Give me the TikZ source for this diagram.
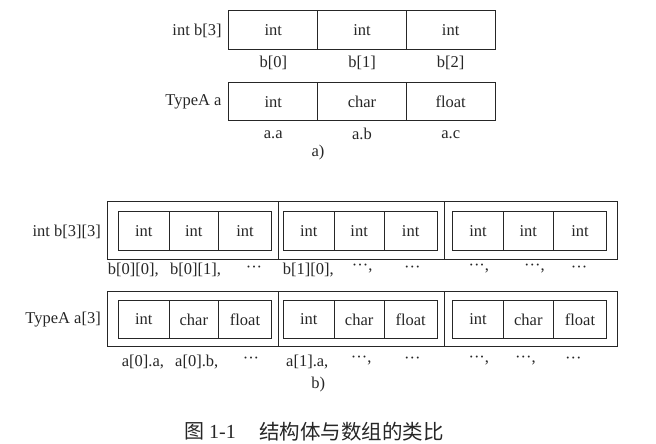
\documentclass[tikz,border=0pt]{standalone}
\usepackage{fontspec}
\setmainfont{Liberation Serif}
\newfontfamily\cjk{Noto Sans CJK SC}
\begin{document}
\begin{tikzpicture}[x=1pt,y=-1pt,
  lbl/.style={font=\fontsize{16.5}{19}\selectfont, inner sep=0pt, text=black!85},
  cell/.style={draw=black!85, line width=1pt, inner sep=0pt, outer sep=0pt, font=\fontsize{16.5}{19}\selectfont, text=black!85},
  topcell/.style={cell, minimum width=88.67pt, minimum height=38.5pt},
  incell/.style={cell, minimum height=39pt},
  inacell/.style={cell, minimum height=37.6pt},
  outb/.style={cell, minimum height=57.6pt},
  outa/.style={cell, minimum height=55.7pt}]
\useasboundingbox (0,0) rectangle (656,444);
% ---- a) ----
\node[topcell] (b0) at (273.3,30) {int};
\node[topcell] (b1) at (362,30) {int};
\node[topcell] (b2) at (450.7,30) {int};
\node[lbl, anchor=east] (lb) at (221.7,30.7) {int b[3]};
\node[lbl] (lb0) at (273.3,63) {b[0]};
\node[lbl] (lb1) at (362,63) {b[1]};
\node[lbl] (lb2) at (450.7,63) {b[2]};
\node[topcell] (a0) at (273.3,101.7) {int};
\node[topcell] (a1) at (362,101.7) {char};
\node[topcell] (a2) at (450.7,101.7) {float};
\node[lbl, anchor=east] (la) at (221.7,101.7) {TypeA a};
\node[lbl] (la0) at (273.3,134.3) {a.a};
\node[lbl] (la1) at (362,134.3) {a.b};
\node[lbl] (la2) at (450.7,134.3) {a.c};
\node[lbl] (capa) at (318,152.7) {a)};
% ---- b) int b[3][3] ----
\node[outb, minimum width=170.6pt] (ob1) at (193,230.5) {};
\node[outb, minimum width=166pt] (ob2) at (361.3,230.5) {};
\node[outb, minimum width=173.4pt] (ob3) at (531,230.5) {};
\node[incell, minimum width=51pt] (b11) at (143.8,231.2) {int};
\node[incell, minimum width=49pt] (b12) at (193.8,231.2) {int};
\node[incell, minimum width=53.4pt] (b13) at (245,231.2) {int};
\node[incell, minimum width=51pt] (b21) at (308.8,231.2) {int};
\node[incell, minimum width=49.7pt] (b22) at (359.15,231.2) {int};
\node[incell, minimum width=53.3pt] (b23) at (410.65,231.2) {int};
\node[incell, minimum width=50.6pt] (b31) at (478,231.2) {int};
\node[incell, minimum width=50pt] (b32) at (528.3,231.2) {int};
\node[incell, minimum width=53.4pt] (b33) at (580,231.2) {int};
\node[lbl, anchor=east] (lbb) at (101,231.7) {int b[3][3]};
\node[lbl, anchor=west] (t1) at (107.7,270) {b[0][0],};
\node[lbl, anchor=west] (t2) at (170,270) {b[0][1],};
\node[lbl] (t3) at (254,269) {···};
\node[lbl, anchor=west] (t4) at (282.7,270) {b[1][0],};
\node[lbl, anchor=west] (t5) at (351.7,269) {···,};
\node[lbl] (t6) at (412.3,269) {···};
\node[lbl, anchor=west] (t7) at (468.3,269) {···,};
\node[lbl, anchor=west] (t8) at (524,269) {···,};
\node[lbl] (t9) at (579,269) {···};
% ---- b) TypeA a[3] ----
\node[outa, minimum width=170.6pt] (oa1) at (193,318.85) {};
\node[outa, minimum width=166pt] (oa2) at (361.3,318.85) {};
\node[outa, minimum width=173.4pt] (oa3) at (531,318.85) {};
\node[inacell, minimum width=51pt] (a11) at (143.8,319.5) {int};
\node[inacell, minimum width=49pt] (a12) at (193.8,319.5) {char};
\node[inacell, minimum width=53.4pt] (a13) at (245,319.5) {float};
\node[inacell, minimum width=51pt] (a21) at (308.8,319.5) {int};
\node[inacell, minimum width=49.7pt] (a22) at (359.15,319.5) {char};
\node[inacell, minimum width=53.3pt] (a23) at (410.65,319.5) {float};
\node[inacell, minimum width=50.6pt] (a31) at (478,319.5) {int};
\node[inacell, minimum width=50pt] (a32) at (528.3,319.5) {char};
\node[inacell, minimum width=53.4pt] (a33) at (580,319.5) {float};
\node[lbl, anchor=east] (laa) at (101,319.3) {TypeA a[3]};
\node[lbl, anchor=west] (s1) at (121.7,361.7) {a[0].a,};
\node[lbl, anchor=west] (s2) at (175,361.7) {a[0].b,};
\node[lbl] (s3) at (251,360.7) {···};
\node[lbl, anchor=west] (s4) at (286,361.7) {a[1].a,};
\node[lbl, anchor=west] (s5) at (350.7,360.7) {···,};
\node[lbl] (s6) at (412.3,360.7) {···};
\node[lbl, anchor=west] (s7) at (468.3,360.7) {···,};
\node[lbl, anchor=west] (s8) at (515,360.7) {···,};
\node[lbl] (s9) at (573.3,360.7) {···};
\node[lbl] (capb) at (318.3,385) {b)};
% ---- caption ----
\node[lbl, anchor=west, font=\fontsize{20}{24}\selectfont] (fig) at (184,431.7) {{\cjk 图} 1-1};
\node[lbl, anchor=west, font=\fontsize{20.5}{24}\selectfont\cjk] (figt) at (259,431.7) {结构体与数组的类比};
\end{tikzpicture}
\end{document}
